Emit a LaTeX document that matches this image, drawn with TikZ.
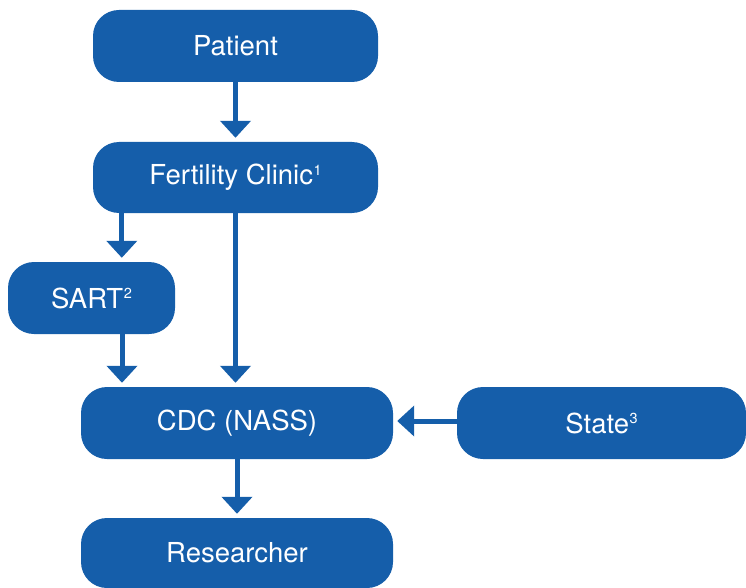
\documentclass[tikz,border=0pt]{standalone}
\usepackage{fontspec}
\setmainfont{TeX Gyre Heros}
\usetikzlibrary{arrows.meta}
\definecolor{boxblue}{RGB}{21,94,170}
\newcommand\supnum[1]{\kern0.5pt\raisebox{9.3pt}{\fontsize{14.5}{14.5}\selectfont #1}}
\begin{document}
\begin{tikzpicture}[x=1pt,y=-1pt,
  box/.style={fill=boxblue, draw=none, rounded corners=26pt, text=white,
    font=\fontsize{27.5}{32}\selectfont, inner sep=0pt, align=center},
  arr/.style={draw=boxblue, line width=5pt,
    -{Triangle[width=30pt,length=17pt]}, shorten >=4pt}]
\useasboundingbox (0,0) rectangle (746,588);
\node[box, minimum width=285pt, minimum height=72pt] (patient) at (235.5,46) {Patient};
\node[box, minimum width=285pt, minimum height=71pt] (fert) at (235.5,177.5) {Fertility Clinic\supnum{1}};
\node[box, minimum width=167pt, minimum height=72pt] (sart) at (91.5,298) {SART\supnum{2}};
\node[box, minimum width=312pt, minimum height=72pt] (cdc) at (237,423) {CDC (NASS)};
\node[box, minimum width=289pt, minimum height=72pt] (state) at (601.5,423) {State\supnum{3}};
\node[box, minimum width=312pt, minimum height=70pt] (res) at (237,553) {Researcher};
\draw[arr] (patient.south) -- (fert.north);
\draw[arr] ([xshift=29pt]fert.south west) -- ([xshift=29pt]fert.south west |- sart.north);
\draw[arr] (fert.south) -- (fert.south |- cdc.north);
\draw[arr] ([xshift=30.5pt]sart.south) -- ([xshift=30.5pt]sart.south |- cdc.north);
\draw[arr] ([yshift=2pt]state.west) -- ([yshift=2pt]state.west -| cdc.east);
\draw[arr] (cdc.south) -- (res.north);
\end{tikzpicture}
\end{document}
